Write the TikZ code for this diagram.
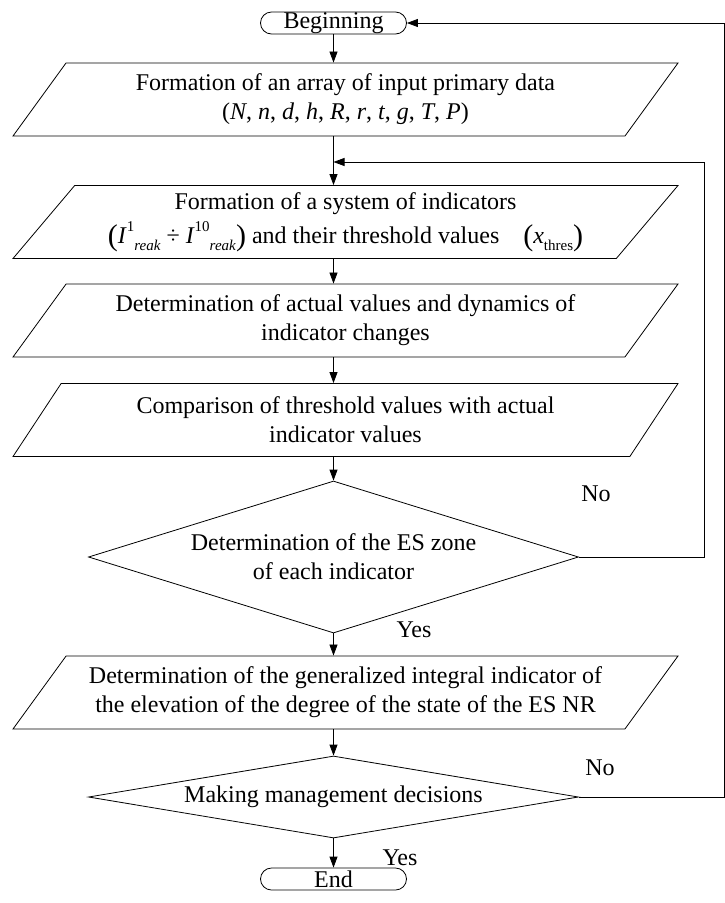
\documentclass[tikz,border=0pt]{standalone}
\usepackage{fontspec}
\setmainfont{Liberation Serif}
\usetikzlibrary{arrows.meta,shapes.geometric}

\newcommand{\smallfs}{\fontsize{15}{15}\selectfont}
\newcommand{\bigpar}[1]{\raisebox{-0.1em}{\fontsize{30}{30}\selectfont #1}}
\newcommand{\ireak}[1]{\textit{I}\raisebox{0.5em}{\smallfs #1}\raisebox{-0.3em}{\smallfs\textit{reak}}}

\begin{document}
\begin{tikzpicture}[x=1pt,y=-1pt,
    font=\fontsize{24}{29}\selectfont,
    line width=0.8pt,
    arr/.style={-{Triangle[length=11pt,width=8pt]}},
    term/.style={draw,rounded corners=11pt,minimum width=146pt,minimum height=22pt,inner sep=0pt},
    iobox/.style={trapezium,trapezium left angle=45,trapezium right angle=135,
        trapezium stretches body,draw,minimum width=665pt,minimum height=73pt,
        inner sep=1pt,align=center},
    dec/.style={diamond,draw,minimum width=490pt,inner sep=0pt,align=center}]
    \useasboundingbox (0,0) rectangle (725,903);
    \node[term] (beg) at (333.5,23) {Beginning};
    \node[iobox] (p1) at (345.5,99.5) {Formation of an array of input primary data\\
        (\textit{N}, \textit{n}, \textit{d}, \textit{h}, \textit{R}, \textit{r}, \textit{t}, \textit{g}, \textit{T}, \textit{P})};
    \node[iobox] (p2) at (345.5,222) {Formation of a system of indicators\\[5pt]
        \bigpar{(}\ireak{1} ÷ \ireak{10}\bigpar{)} and their threshold values\quad
        \bigpar{(}\textit{x}\raisebox{-0.3em}{\smallfs thres}\bigpar{)}};
    \node[iobox] (p3) at (345.5,320.5) {Determination of actual values and dynamics of\\indicator changes};
    \node[iobox] (p4) at (345.5,420) {Comparison of threshold values with actual\\indicator values};
    \node[dec,minimum height=152pt,aspect=3.2] (d1) at (333.5,557) {Determination of the ES zone\\of each indicator};
    \node[iobox] (p5) at (345.5,692.5) {Determination of the generalized integral indicator of\\
        the elevation of the degree of the state of the ES NR};
    \node[dec,minimum height=82pt,aspect=6] (d2) at (333.5,797) {Making management decisions};
    \node[term] (end) at (333.5,879) {End};
    % labels
    \node (no1) at (596,494) {No};
    \node (yes1) at (414,630) {Yes};
    \node (no2) at (600,768) {No};
    \node (yes2) at (400,858) {Yes};
    % flow
    \coordinate (j1) at (333.5,162);
    \coordinate (r1) at (704,162);
    \coordinate (r2) at (724,23);
    \draw[arr] (beg) -- (beg |- p1.north);
    \draw[arr] (beg |- p1.south) -- (beg |- p2.north);
    \draw[arr] (beg |- p2.south) -- (beg |- p3.north);
    \draw[arr] (beg |- p3.south) -- (beg |- p4.north);
    \draw[arr] (beg |- p4.south) -- (d1.north);
    \draw[arr] (d1.south) -- (beg |- p5.north);
    \draw[arr] (beg |- p5.south) -- (d2.north);
    \draw[arr] (d2.south) -- (end.north);
    \draw[arr] (d1.east) -| (r1) -- (j1);
    \draw[arr] (d2.east) -| (r2) -- (beg.east);
\end{tikzpicture}
\end{document}
